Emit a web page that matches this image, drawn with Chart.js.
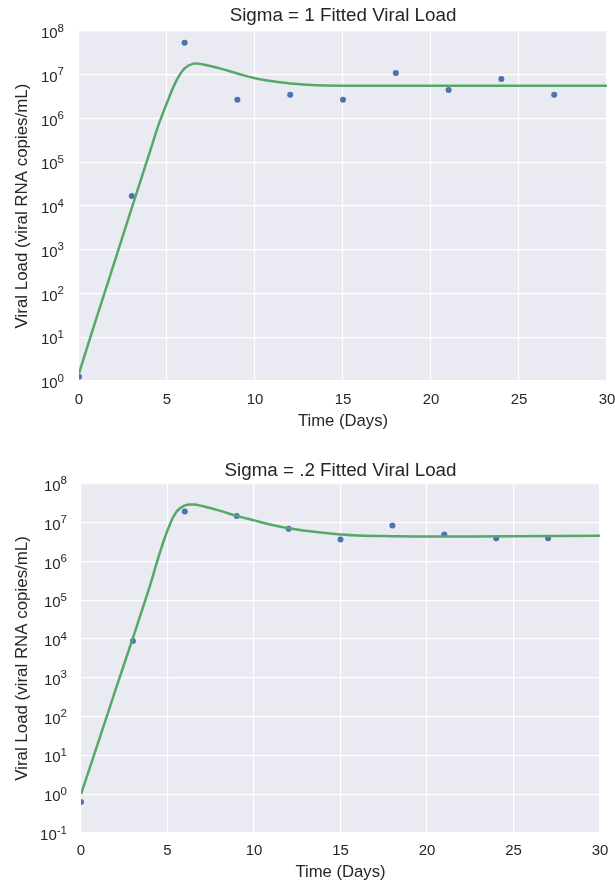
<!DOCTYPE html>
<html>
<head>
<meta charset="utf-8">
<script src="https://cdn.jsdelivr.net/npm/chart.js@4"></script>
<style>
  html, body { margin: 0; padding: 0; background: #fff; }
  .panel { position: absolute; left: 0; width: 615px; }
</style>
</head>
<body>
<div class="panel" style="top:0;height:440px"><canvas id="sigma1" width="615" height="440"></canvas></div>
<div class="panel" style="top:440px;height:444px"><canvas id="sigma02" width="615" height="444"></canvas></div>
<script>
// measured viral loads (copies/mL) at each sampling day
const sampleDays = [0, 3, 6, 9, 12, 15, 18, 21, 24, 27];
const loadSigma1 = [1.25, 1.7e4, 5.4e7, 2.7e6, 3.5e6, 2.7e6, 1.1e7, 4.5e6, 8.0e6, 3.5e6];
const loadSigma02 = [0.63, 8.9e3, 1.95e7, 1.5e7, 7.0e6, 3.7e6, 8.5e6, 5.0e6, 4.0e6, 4.0e6];

// fitted model curves
const fitDaysSigma1 = [0, 1, 2, 3, 4, 4.5, 5, 5.5, 6, 6.5, 7, 8, 9, 10, 11, 12, 13, 14, 16, 20, 25, 30];
const fitSigma1 = [1.5, 28, 500, 9.1e3, 1.6e5, 6.8e5, 2.3e6, 6.9e6, 1.4e7, 1.8e7, 1.74e7, 1.4e7,
  1.07e7, 8.3e6, 7.1e6, 6.3e6, 5.9e6, 5.7e6, 5.6e6, 5.6e6, 5.6e6, 5.6e6];
const fitDaysSigma02 = [0, 1, 2, 3, 4, 4.5, 5, 5.5, 6, 6.5, 7, 8, 9, 10, 11, 12, 13, 14, 15, 16, 18, 20, 25, 30];
const fitSigma02 = [1.0, 22, 500, 1.07e4, 2.5e5, 1.4e6, 6.3e6, 1.86e7, 2.8e7, 2.95e7, 2.7e7, 2.05e7,
  1.5e7, 1.15e7, 8.9e6, 7.2e6, 6.2e6, 5.5e6, 5.0e6, 4.7e6, 4.5e6, 4.4e6, 4.5e6, 4.6e6];

// y axis ticks: value and the power of ten shown as superscript
const ticksSigma1 = [1e0, 1e1, 1e2, 1e3, 1e4, 1e5, 1e6, 1e7, 1e8];
const expSigma1 = ["0", "1", "2", "3", "4", "5", "6", "7", "8"];
const ticksSigma02 = [1e-1, 1e0, 1e1, 1e2, 1e3, 1e4, 1e5, 1e6, 1e7, 1e8];
const expSigma02 = ["-1", "0", "1", "2", "3", "4", "5", "6", "7", "8"];

const FONT = "'Liberation Sans', Arial, sans-serif";
const TXT = "#262626";

// grey panel behind the grid
const panelBg = {
  id: "panelBg",
  beforeDraw(chart) {
    const a = chart.chartArea;
    chart.ctx.save();
    chart.ctx.fillStyle = "#EAEAF2";
    chart.ctx.fillRect(a.left, a.top, a.right - a.left, a.bottom - a.top);
    chart.ctx.restore();
  },
};

// "10" with a raised exponent for each log tick
const powerLabels = {
  id: "powerLabels",
  afterDraw(chart, args, opts) {
    const ys = chart.scales.y;
    const ctx = chart.ctx;
    const right = chart.chartArea.left - opts.pad;
    ctx.save();
    ctx.fillStyle = TXT;
    ctx.textAlign = "left";
    ctx.textBaseline = "alphabetic";
    opts.values.forEach((v, i) => {
      const py = ys.getPixelForValue(v);
      ctx.font = "11.5px " + FONT;
      const ew = ctx.measureText(opts.exps[i]).width;
      ctx.font = "15px " + FONT;
      const bw = ctx.measureText("10").width;
      ctx.fillText("10", right - ew - bw, py + 7);
      ctx.font = "11.5px " + FONT;
      ctx.fillText(opts.exps[i], right - ew, py + 0.5);
    });
    ctx.restore();
  },
};

function pairs(xs, ys) {
  return xs.map((x, i) => ({ x: x, y: ys[i] }));
}

function buildChart(id, o) {
  return new Chart(document.getElementById(id), {
    data: {
      datasets: [
        {
          type: "line",
          data: pairs(o.fitX, o.fitY),
          borderColor: "#55A868",
          borderWidth: 2.5,
          pointRadius: 0,
          tension: 0.4,
          order: 0,
        },
        {
          type: "scatter",
          data: pairs(sampleDays, o.points),
          backgroundColor: "#4C72B0",
          borderWidth: 0,
          pointRadius: 3,
          order: 1,
        },
      ],
    },
    options: {
      responsive: false,
      animation: false,
      layout: { padding: { left: 0, right: o.padRight, top: 0, bottom: 0 } },
      plugins: {
        legend: { display: false },
        tooltip: { enabled: false },
        title: {
          display: true,
          text: o.title,
          fullSize: false,
          color: TXT,
          font: { family: FONT, size: 18.8, weight: "normal" },
          padding: o.titlePad,
        },
        powerLabels: { values: o.yTicks, exps: o.yExps, pad: o.yTickPad },
      },
      scales: {
        x: {
          type: "linear",
          min: 0,
          max: 30,
          ticks: { stepSize: 5, padding: o.xTickPad, color: TXT, font: { family: FONT, size: 15 } },
          grid: { color: "#ffffff", lineWidth: 1.2, drawTicks: false },
          border: { display: false },
          title: {
            display: true,
            text: "Time (Days)",
            color: TXT,
            font: { family: FONT, size: 16.7 },
            padding: { top: 0, bottom: o.xTitleBottom },
          },
          afterFit(scale) {
            scale.height = o.xHeight;
            scale.paddingLeft = 0;
            scale.paddingRight = 0;
          },
        },
        y: {
          type: "logarithmic",
          min: o.yTicks[0],
          max: o.yTicks[o.yTicks.length - 1],
          afterBuildTicks(scale) {
            scale.ticks = o.yTicks.map((v) => ({ value: v }));
          },
          ticks: { display: false },
          grid: { color: "#ffffff", lineWidth: 1.2, drawTicks: false },
          border: { display: false },
          title: {
            display: true,
            text: "Viral Load (viral RNA copies/mL)",
            color: TXT,
            font: { family: FONT, size: 16.9 },
            padding: { top: 12, bottom: 0 },
          },
          afterFit(scale) {
            scale.width = o.yWidth;
            scale.paddingTop = 0;
            scale.paddingBottom = 0;
          },
        },
      },
    },
    plugins: [panelBg, powerLabels],
  });
}

buildChart("sigma1", {
  title: "Sigma = 1 Fitted Viral Load",
  points: loadSigma1,
  fitX: fitDaysSigma1,
  fitY: fitSigma1,
  yTicks: ticksSigma1,
  yExps: expSigma1,
  titlePad: { top: 4.5, bottom: 4 },
  xHeight: 59,
  xTickPad: 10,
  xTitleBottom: 8.5,
  yWidth: 79,
  yTickPad: 15,
  padRight: 8,
});

buildChart("sigma02", {
  title: "Sigma = .2 Fitted Viral Load",
  points: loadSigma02,
  fitX: fitDaysSigma02,
  fitY: fitSigma02,
  yTicks: ticksSigma02,
  yExps: expSigma02,
  titlePad: { top: 19.5, bottom: 1.9 },
  xHeight: 51,
  xTickPad: 9,
  xTitleBottom: 1.4,
  yWidth: 81,
  yTickPad: 14,
  padRight: 15,
});
</script>
</body>
</html>
